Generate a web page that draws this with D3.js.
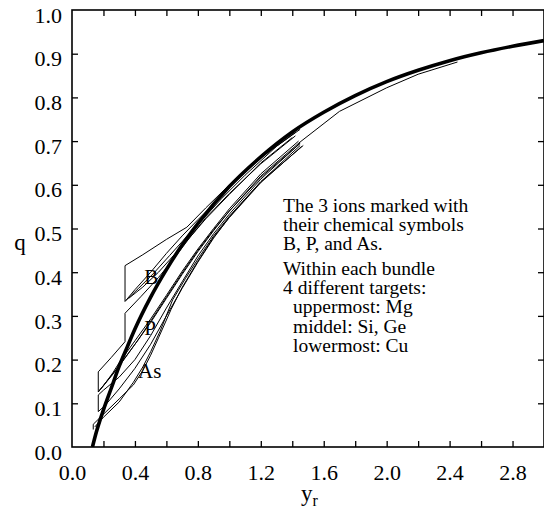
<!DOCTYPE html>
<html>
<head>
<meta charset="utf-8">
<script src="https://cdn.jsdelivr.net/npm/d3@7/dist/d3.min.js"></script>
<style>
  html, body { margin: 0; padding: 0; background: #fff; }
  svg { display: block; }
  text { font-family: "Liberation Serif", "Times New Roman", "DejaVu Serif", serif; fill: #000; }
</style>
</head>
<body>
<svg id="chart" width="544" height="512"></svg>
<script>
// Effective charge fraction q versus reduced velocity y_r.
const xTicks = [0.0, 0.2, 0.4, 0.6, 0.8, 1.0, 1.2, 1.4, 1.6, 1.8, 2.0, 2.2, 2.4, 2.6, 2.8];
const xTickLabels = ["0.0", "", "0.4", "", "0.8", "", "1.2", "", "1.6", "", "2.0", "", "2.4", "", "2.8"];
const yTicks = [0.0, 0.1, 0.2, 0.3, 0.4, 0.5, 0.6, 0.7, 0.8, 0.9, 1.0];
const yTickLabels = ["0.0", "0.1", "0.2", "0.3", "0.4", "0.5", "0.6", "0.7", "0.8", "0.9", "1.0"];

// Universal curve (heavy line): [y_r, q]
const universalCurve = [
  [0.13, 0.0], [0.15, 0.028], [0.2, 0.085], [0.25, 0.135], [0.3, 0.185], [0.35, 0.228],
  [0.4, 0.27], [0.5, 0.343], [0.6, 0.406], [0.7, 0.462], [0.8, 0.511], [1.0, 0.596],
  [1.2, 0.664], [1.4, 0.721], [1.6, 0.766], [1.8, 0.804], [2.0, 0.836], [2.2, 0.862],
  [2.4, 0.884], [2.6, 0.902], [2.8, 0.917], [3.0, 0.930]
];

// Boron bundle
const boronMg = [[0.337, 0.333], [0.337, 0.415], [0.45, 0.44], [0.6, 0.475], [0.73, 0.503],
  [0.85, 0.547], [1.0, 0.6], [1.2, 0.667], [1.4, 0.723]];
const boronSi = [[0.337, 0.333], [0.4, 0.36], [0.5, 0.4], [0.6, 0.443], [0.7, 0.483],
  [0.8, 0.52], [0.9, 0.556], [1.0, 0.594], [1.2, 0.662], [1.42, 0.72]];
const boronGe = [[0.345, 0.336], [0.42, 0.362], [0.52, 0.398], [0.62, 0.438], [0.72, 0.478],
  [0.82, 0.517], [0.95, 0.568], [1.1, 0.622], [1.3, 0.688], [1.45, 0.727]];
const boronCu = [[0.36, 0.34], [0.45, 0.366], [0.55, 0.4], [0.65, 0.44], [0.75, 0.48],
  [0.85, 0.522], [1.0, 0.578], [1.2, 0.65], [1.4, 0.708]];

// Phosphorus bundle
const phosMg = [[0.167, 0.172], [0.25, 0.205], [0.337, 0.241], [0.337, 0.306], [0.44, 0.345],
  [0.55, 0.388], [0.65, 0.432], [0.75, 0.48], [0.85, 0.524], [1.0, 0.58], [1.2, 0.648], [1.42, 0.712]];
const phosSi = [[0.167, 0.172], [0.167, 0.126], [0.2, 0.14], [0.26, 0.17], [0.3, 0.193],
  [0.4, 0.243], [0.5, 0.293], [0.6, 0.347], [0.7, 0.402], [0.8, 0.453], [0.9, 0.5],
  [1.0, 0.545], [1.2, 0.625], [1.44, 0.7]];
const phosGe = [[0.167, 0.126], [0.22, 0.15], [0.3, 0.186], [0.4, 0.235], [0.5, 0.285],
  [0.6, 0.34], [0.7, 0.395], [0.8, 0.447], [0.9, 0.495], [1.0, 0.54], [1.2, 0.62],
  [1.45, 0.698], [1.7, 0.768], [2.0, 0.822], [2.2, 0.853], [2.45, 0.881]];
const phosCu = [[0.175, 0.13], [0.25, 0.162], [0.33, 0.2], [0.42, 0.245], [0.5, 0.288],
  [0.6, 0.343], [0.7, 0.398], [0.8, 0.45], [0.9, 0.497], [1.0, 0.54], [1.2, 0.617], [1.45, 0.695]];

// Arsenic bundle
const arsMg = [[0.167, 0.081], [0.167, 0.119], [0.2, 0.13], [0.3, 0.16], [0.4, 0.2],
  [0.5, 0.255], [0.6, 0.318], [0.7, 0.378], [0.8, 0.437], [0.9, 0.488], [1.0, 0.533],
  [1.2, 0.613], [1.45, 0.695]];
const arsSi = [[0.167, 0.081], [0.21, 0.095], [0.3, 0.133], [0.4, 0.18], [0.5, 0.235],
  [0.6, 0.3], [0.7, 0.363], [0.8, 0.423], [0.9, 0.478], [1.0, 0.526], [1.2, 0.607], [1.45, 0.69]];
const arsGe = [[0.135, 0.04], [0.135, 0.052], [0.2, 0.075], [0.3, 0.11], [0.39, 0.142],
  [0.45, 0.175], [0.5, 0.21], [0.55, 0.25], [0.63, 0.315], [0.7, 0.365], [0.8, 0.425],
  [0.9, 0.48], [1.0, 0.525], [1.2, 0.605], [1.46, 0.688]];
const arsCu = [[0.145, 0.046], [0.2, 0.068], [0.3, 0.103], [0.39, 0.148], [0.45, 0.183],
  [0.5, 0.218], [0.56, 0.265], [0.64, 0.337], [0.72, 0.385], [0.8, 0.43], [0.9, 0.483],
  [1.0, 0.528], [1.2, 0.607], [1.47, 0.69]];

const bundleCurves = [boronMg, boronSi, boronGe, boronCu, phosMg, phosSi, phosGe, phosCu,
  arsMg, arsSi, arsGe, arsCu];

const ionLabels = [
  { text: "B", x: 0.46, q: 0.373 },
  { text: "P", x: 0.46, q: 0.257 },
  { text: "As", x: 0.42, q: 0.157 }
];

const noteLines = ["The 3 ions marked with", "their chemical symbols", "B, P, and As."];
const noteLines2 = ["Within each bundle", "4 different targets:"];
const noteLines3 = ["uppermost: Mg", "middel: Si, Ge", "lowermost: Cu"];

const svg = d3.select("#chart");
const plotLeft = 72, plotRight = 544, plotTop = 10, plotBottom = 447;

const x = d3.scaleLinear().domain([0, 3.0]).range([plotLeft, plotRight]);
const y = d3.scaleLinear().domain([0, 1.0]).range([plotBottom, plotTop]);

svg.append("clipPath").attr("id", "plot-clip")
  .append("rect").attr("x", plotLeft).attr("y", plotTop)
  .attr("width", plotRight - plotLeft).attr("height", plotBottom - plotTop);

const line = d3.line().x(d => x(d[0])).y(d => y(d[1])).curve(d3.curveLinear);
const smooth = d3.line().x(d => x(d[0])).y(d => y(d[1])).curve(d3.curveMonotoneX);

const plot = svg.append("g").attr("clip-path", "url(#plot-clip)");

plot.selectAll("path.bundle").data(bundleCurves).join("path")
  .attr("class", "bundle")
  .attr("d", line)
  .attr("fill", "none")
  .attr("stroke", "#000")
  .attr("stroke-width", 1)
  .attr("stroke-linejoin", "round");

plot.append("path")
  .attr("d", smooth(universalCurve))
  .attr("fill", "none")
  .attr("stroke", "#000")
  .attr("stroke-width", 3.6)
  .attr("stroke-linecap", "butt");

// Axes with inward ticks on all four sides
const tickLen = 6;
const fontSize = 22;
const serif = '"Liberation Serif", "Times New Roman", serif';

const xAxis = svg.append("g").attr("transform", `translate(0,${plotBottom})`)
  .call(d3.axisBottom(x).tickValues(xTicks).tickSizeInner(-tickLen).tickSizeOuter(0)
    .tickPadding(17).tickFormat((d, i) => xTickLabels[i]));
const xAxisTop = svg.append("g").attr("transform", `translate(0,${plotTop})`)
  .call(d3.axisTop(x).tickValues(xTicks).tickSizeInner(-tickLen).tickSizeOuter(0).tickFormat(""));
const yAxis = svg.append("g").attr("transform", `translate(${plotLeft},0)`)
  .call(d3.axisLeft(y).tickValues(yTicks).tickSizeInner(-tickLen).tickSizeOuter(0)
    .tickPadding(10).tickFormat((d, i) => yTickLabels[i]));
const yAxisRight = svg.append("g").attr("transform", `translate(${plotRight},0)`)
  .call(d3.axisRight(y).tickValues(yTicks).tickSizeInner(-tickLen).tickSizeOuter(0).tickFormat(""));

[xAxis, xAxisTop, yAxis, yAxisRight].forEach(g => {
  g.attr("font-family", null);
  g.select(".domain").remove();
  g.selectAll(".tick line").attr("stroke", "#000").attr("stroke-width", 1.3);
  g.selectAll(".tick text").style("font-family", serif)
    .style("font-size", fontSize + "px").attr("fill", "#000");
});
// value labels sit a little below their tick marks
yAxis.selectAll(".tick text").attr("dy", "0.55em");

// end ticks coincide with the frame
yAxis.selectAll(".tick").filter(d => d === 0 || d === 1).select("line").remove();
yAxisRight.selectAll(".tick").filter(d => d === 0 || d === 1).select("line").remove();
xAxis.selectAll(".tick").filter(d => d === 0).select("line").remove();
xAxisTop.selectAll(".tick").filter(d => d === 0).select("line").remove();

// Frame
svg.append("rect")
  .attr("x", plotLeft).attr("y", plotTop)
  .attr("width", plotRight - plotLeft).attr("height", plotBottom - plotTop)
  .attr("fill", "none").attr("stroke", "#000").attr("stroke-width", 1.6);

// Axis titles
svg.append("text")
  .attr("x", 20).attr("y", 250)
  .attr("text-anchor", "middle")
  .style("font-size", "23px")
  .text("q");

const xTitle = svg.append("text")
  .attr("x", 301).attr("y", 501)
  .style("font-size", "23px");
xTitle.append("tspan").text("y");
xTitle.append("tspan").attr("dy", 5).style("font-size", "16px").text("r");

// Ion labels
svg.selectAll("text.ion").data(ionLabels).join("text")
  .attr("class", "ion")
  .attr("x", d => x(d.x)).attr("y", d => y(d.q))
  .style("font-size", "21px")
  .text(d => d.text);

// Annotation block
const noteX = 283, lineH = 19.2;
const note = svg.append("g").style("font-size", "19.5px");
noteLines.forEach((t, i) => note.append("text").attr("x", noteX).attr("y", 212 + i * lineH).text(t));
noteLines2.forEach((t, i) => note.append("text").attr("x", noteX).attr("y", 275 + i * lineH).text(t));
noteLines3.forEach((t, i) => note.append("text").attr("x", noteX + 10).attr("y", 313.4 + i * lineH).text(t));
</script>
</body>
</html>
